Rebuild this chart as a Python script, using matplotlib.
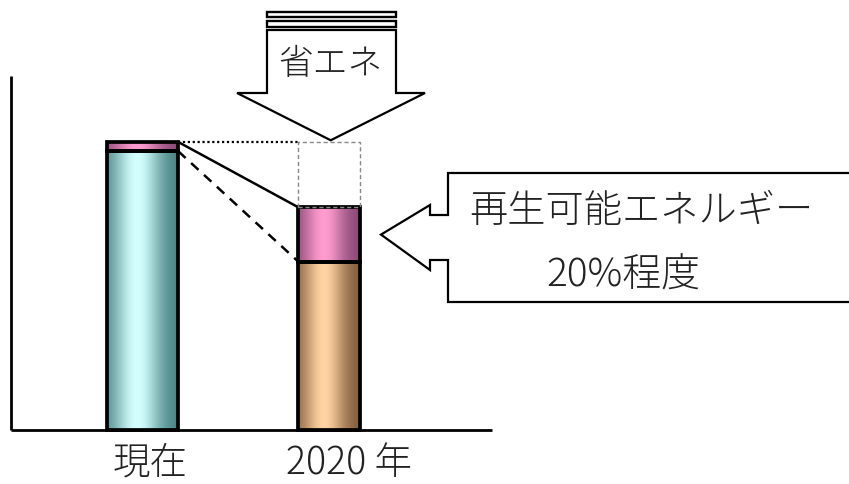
import matplotlib.pyplot as plt
import numpy as np
from matplotlib.patches import Polygon, Rectangle
from matplotlib.colors import to_rgb

plt.rcParams['font.family'] = ['Noto Sans CJK JP', 'DejaVu Sans']

# data (current total = 100)
labels = ['現在', '2020 年']
bar_x = [142.5, 329.2]          # bar centres
bar_w = [71.5, 61.5]
other = [96.8, 58.4]            # lower segment
renew = [3.2, 18.9]             # renewable segment (pink)
low_colors = [('#4a8585', '#d4ffff'), ('#86603f', '#ffd3a3')]
pink_colors = ('#8c4a78', '#ff9ccf')

# pixel -> value helper for decorations (baseline at 430 px, 100 = 288 px)
def vy(px):
    return (430 - px) * 100 / 288

fig = plt.figure(figsize=(8.49, 4.84), dpi=100)
ax = fig.add_axes([0, 0, 1, 1])
ax.set_xlim(0, 849)
ax.set_ylim(vy(484), vy(0))
ax.axis('off')

def grad_bar(x0, w, y0, h, cols):
    dark, light = np.array(to_rgb(cols[0])), np.array(to_rgb(cols[1]))
    t = np.linspace(0, 1, 200)
    f = np.exp(-((t - 0.42) / 0.33) ** 2)
    f = f - f.min()
    f = f / f.max()
    img = dark[None, :] + (light - dark)[None, :] * f[:, None]
    ax.imshow(img[None, :, :], extent=[x0, x0 + w, y0, y0 + h],
              aspect='auto', zorder=2, interpolation='bilinear')
    ax.add_patch(Rectangle((x0, y0), w, h, fill=False, ec='black',
                           lw=2.7, zorder=3))

for i in range(2):
    x0 = bar_x[i] - bar_w[i] / 2
    grad_bar(x0, bar_w[i], 0, other[i], low_colors[i])
    grad_bar(x0, bar_w[i], other[i], renew[i], pink_colors)

# axes lines
ax.plot([11, 11], [0, vy(76)], color='black', lw=2, zorder=4, solid_capstyle='butt')
ax.plot([11, 492], [0, 0], color='black', lw=2, zorder=4, solid_capstyle='butt')

# category labels
label_x = [150, 349]
for i, lab in enumerate(labels):
    ax.text(label_x[i], vy(463), lab, ha='center', va='center',
            fontsize=27, color='#222222', fontweight='light')

tot0 = other[0] + renew[0]
tot1 = other[1] + renew[1]
r0 = bar_x[0] + bar_w[0] / 2
l1 = bar_x[1] - bar_w[1] / 2
r1 = bar_x[1] + bar_w[1] / 2

# connector lines
ax.plot([r0, l1], [tot0, tot0], color='black', lw=1.6, ls=(0, (1, 1.2)), zorder=4)
ax.plot([r0, l1], [tot0, tot1], color='black', lw=1.8, zorder=4)
ax.plot([r0, l1], [other[0], other[1]], color='black', lw=1.8, ls=(0, (4, 3)), zorder=4)
# saved-energy box
ax.add_patch(Rectangle((l1, tot1), r1 - l1, tot0 - tot1, fill=False,
                       ec='#888888', lw=1.0, ls=(0, (3, 2)), zorder=4))

# down arrow (省エネ)
cx = bar_x[1] + 1.5
down = [(267, vy(30)), (396, vy(30)), (396, vy(93)), (425, vy(93)),
        (cx, tot0 + 0.6), (237, vy(93)), (267, vy(93))]
ax.add_patch(Polygon(down, closed=True, fc='white', ec='black', lw=1.6, zorder=5))
for y0, y1 in [(12, 17), (21, 27)]:
    ax.add_patch(Rectangle((267, vy(y1)), 396 - 267, vy(y0) - vy(y1),
                           fc='white', ec='black', lw=1.7, zorder=5))
ax.text(331, vy(64), '省エネ', ha='center', va='center', fontsize=25,
        color='#222222', fontweight='light', zorder=6)

# left callout arrow (renewables)
tip_y = other[1] + renew[1] / 2
callout = [(860, vy(173)), (448, vy(173)), (448, vy(215)), (430, vy(215)),
           (430, vy(205)), (381, tip_y), (430, vy(270)), (430, vy(260)),
           (448, vy(260)), (448, vy(302)), (860, vy(302))]
ax.add_patch(Polygon(callout, closed=True, fc='white', ec='black', lw=1.6, zorder=5))
ax.text(641, vy(211), '再生可能エネルギー', ha='center', va='center', fontsize=27.5,
        color='#222222', fontweight='light', zorder=6)
ax.text(623, vy(276), '20%程度', ha='center', va='center', fontsize=28,
        color='#222222', fontweight='light', zorder=6)

fig.savefig('out.png', dpi=100)
